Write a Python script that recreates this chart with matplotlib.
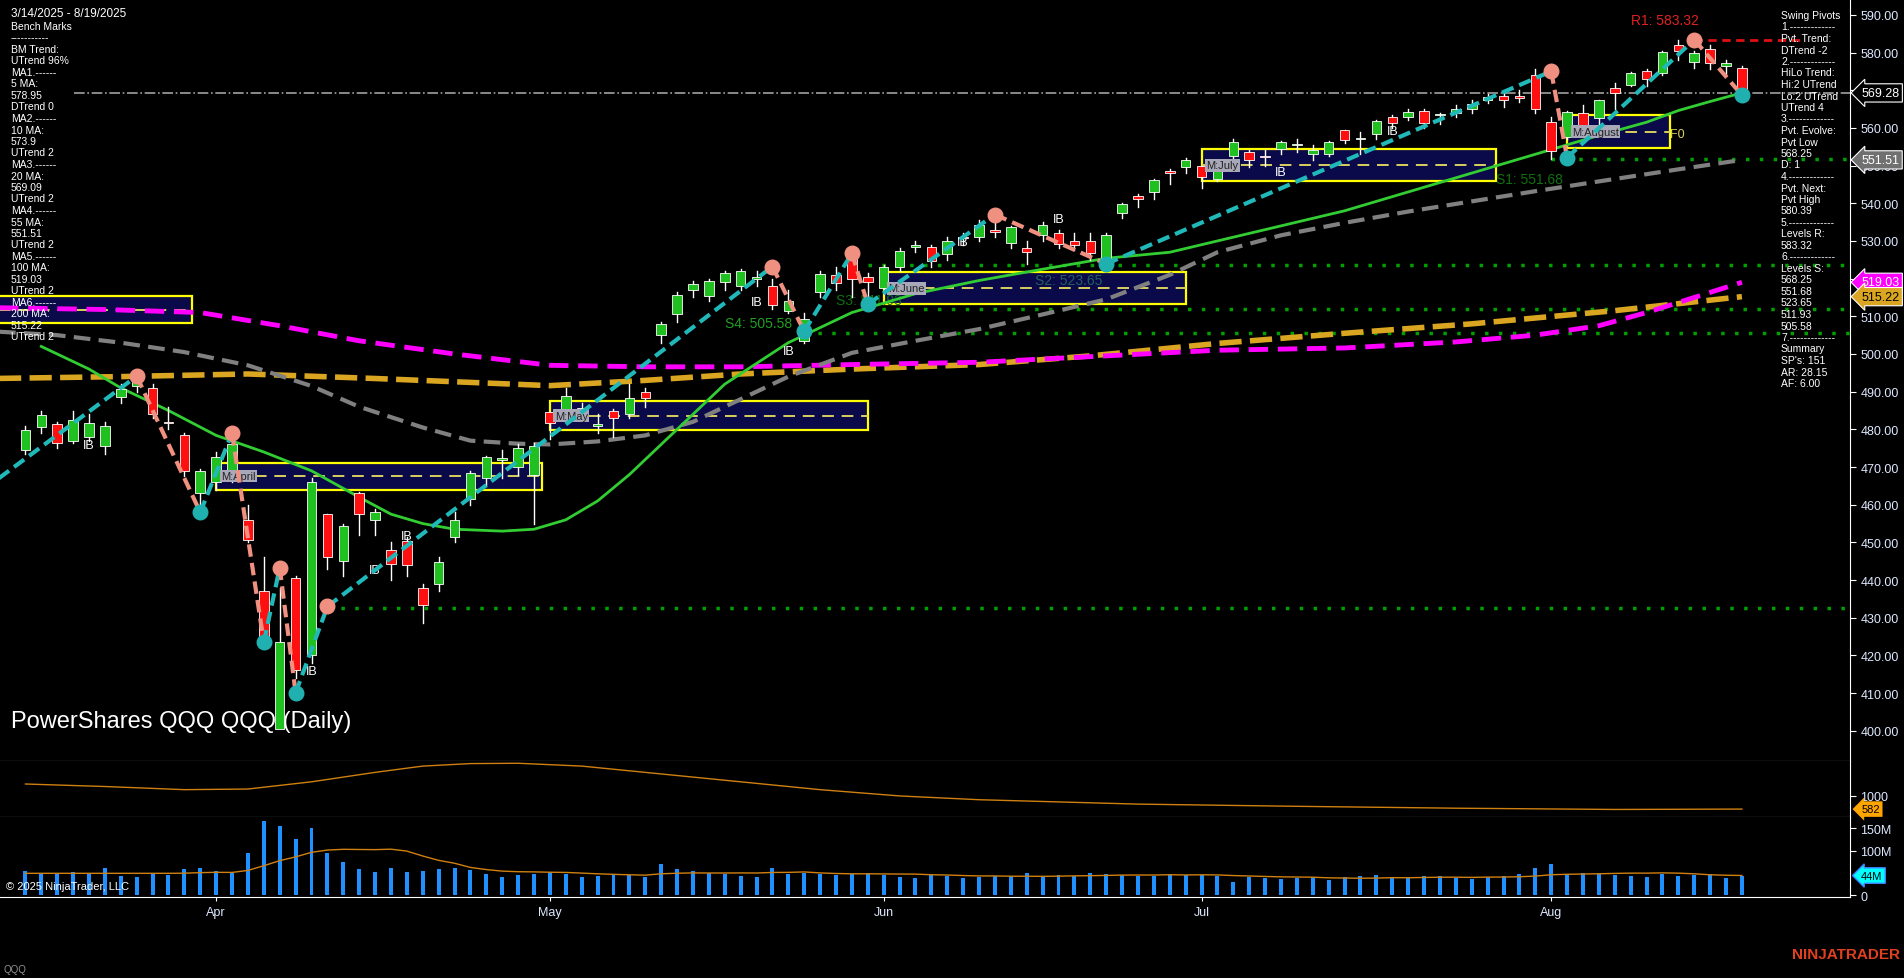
import matplotlib.pyplot as plt
import numpy as np

plt.rcParams['font.family'] = ['Liberation Sans', 'DejaVu Sans']

# ---- daily QQQ data 3/14/2025 - 8/19/2025 ----
opens = [474.5,480.5,481.5,477.0,478.0,475.5,488.5,491.5,491.0,482.0,478.5,463.0,
         466.0,469.0,456.0,437.0,400.5,440.5,420.0,457.5,445.0,463.0,456.0,448.0,450.5,438.0,439.0,451.5,461.5,467.0,472.0,470.0,468.0,
         484.5,484.0,485.0,481.0,485.0,484.0,490.0,505.0,510.5,517.0,515.5,519.0,518.0,520.0,518.0,511.5,503.5,516.5,521.0,525.5,520.5,
         517.5,523.0,528.5,528.5,526.5,531.0,531.0,533.0,529.5,528.0,531.5,532.0,530.0,530.0,524.0,537.5,542.0,543.0,548.5,549.5,
         550.0,546.5,552.5,553.5,552.5,554.5,555.5,553.0,553.0,559.5,557.0,558.5,563.0,563.0,564.5,563.5,564.0,565.0,567.5,568.5,568.5,574.0,
         561.5,557.5,564.0,562.5,570.5,571.5,575.0,574.5,582.0,577.5,581.0,576.5,576.0]
highs = [481.0,485.0,482.0,485.0,484.0,482.0,492.0,495.0,492.0,486.0,479.0,469.5,
         474.0,478.0,460.0,446.0,438.0,441.0,467.0,457.5,455.0,463.5,459.0,450.0,451.5,439.0,446.0,458.0,469.0,473.0,474.5,476.0,476.5,
         484.5,491.0,487.0,484.0,485.5,492.0,491.0,508.5,516.5,519.5,520.0,522.0,522.5,522.0,520.0,517.0,511.0,522.0,523.0,525.5,521.5,
         523.5,528.0,530.0,529.0,531.0,532.0,535.5,536.0,534.0,530.0,535.0,533.0,532.0,532.0,532.0,540.0,542.5,546.5,549.0,552.0,
         550.0,551.0,557.0,554.0,554.0,556.5,557.0,555.5,556.5,559.5,559.0,562.0,563.5,565.0,565.0,564.0,566.0,567.5,569.0,569.5,570.0,575.5,
         563.0,564.5,566.0,567.5,572.0,574.8,575.5,580.3,583.3,580.5,582.0,578.0,576.5]
lows = [473.5,479.0,475.0,476.5,477.0,473.5,487.0,490.0,483.0,480.0,467.5,457.0,
        464.0,466.0,450.0,422.0,402.5,414.0,418.0,443.0,441.0,452.0,452.0,440.0,441.0,428.5,437.0,450.0,460.0,465.0,467.0,468.0,455.0,
        477.5,483.0,483.0,479.0,478.0,483.0,486.0,503.0,508.5,515.0,514.0,517.0,517.0,518.0,512.0,511.0,503.0,515.0,517.0,515.0,515.0,
        516.0,522.0,527.0,523.0,525.0,529.0,530.0,531.0,528.0,524.0,530.0,528.0,527.5,525.0,523.5,536.0,539.0,541.0,545.0,548.0,
        544.0,546.0,552.0,549.5,550.0,553.0,553.5,551.5,552.5,556.0,553.0,557.0,560.0,562.0,560.0,561.0,563.0,564.0,566.5,565.5,567.0,564.0,
        551.7,557.0,559.0,561.0,565.0,571.0,571.0,574.0,578.0,576.0,575.5,574.0,568.2]
closes = [479.7,483.9,476.3,482.5,481.8,480.8,490.7,493.5,484.0,481.6,468.9,468.9,
          472.7,476.2,450.7,422.7,423.7,416.1,466.0,446.2,454.4,457.5,458.0,444.2,444.1,433.3,444.8,455.9,468.4,472.6,472.4,475.1,475.6,
          481.7,488.8,485.6,481.1,483.0,488.3,488.3,507.9,515.6,518.7,519.3,521.5,522.0,520.3,513.0,514.0,509.2,521.2,518.9,519.9,519.1,
          523.2,527.3,528.7,524.8,529.9,530.7,534.2,532.4,533.7,527.0,534.3,529.1,529.0,526.8,531.7,539.8,541.2,546.2,548.1,551.6,
          547.0,550.8,556.2,551.6,552.3,556.3,555.5,554.2,556.2,556.7,557.3,561.8,561.3,564.2,561.3,563.8,565.0,566.4,568.1,567.3,568.0,565.0,
          553.9,564.1,560.3,567.3,569.2,574.6,572.9,580.1,580.3,579.9,577.3,577.1,569.3]
volumes = [55,50,48,52,50,60,42,40,48,45,58,62,
           55,50,95,165,155,125,150,95,75,58,52,60,52,55,58,60,56,48,40,45,48,
           52,48,40,42,48,46,40,70,58,55,50,48,42,40,60,48,50,48,45,48,50,
           45,40,38,46,42,38,40,44,42,50,42,45,44,50,48,45,42,44,48,45,
           46,42,30,40,38,36,38,40,34,40,42,45,40,38,44,42,38,36,40,42,48,60,
           70,48,50,48,46,42,40,48,42,45,48,38,44]
month_labels = ['Apr', 'May', 'Jun', 'Jul', 'Aug']
month_idx = [12, 33, 54, 74, 96]

# moving averages (bar index, value)
ma20_x = [1, 4, 6, 9, 12, 15, 18, 21, 23, 25, 27, 30, 32, 34, 36, 38, 41, 44, 48, 52, 56, 60, 64, 68, 72, 75, 79, 83, 87, 91, 95, 99, 102, 104, 106, 108]
ma20_y = [502, 496, 491, 485, 478.4, 474, 469, 462, 457.5, 455, 453.5, 453, 453.5, 456, 461, 468, 480, 492, 503, 511, 516, 519.5, 522.5, 525.4, 527, 530, 534, 538, 543, 548, 553, 558, 561.5, 564.6, 567, 569.3]
ma55_x = [-2, 2, 6, 10, 14, 18, 21, 25, 28, 31, 33, 36, 39, 42, 45, 48, 52, 56, 60, 64, 68, 72, 75, 79, 83, 87, 91, 95, 99, 104, 108]
ma55_y = [506, 505, 503, 500.5, 497, 491.5, 486, 480.5, 477, 476.2, 476, 476.8, 478.4, 482, 488, 494, 500.3, 503.5, 506.6, 510.5, 514.5, 521, 527, 531.5, 534.8, 537.8, 540.5, 543.2, 545.8, 549, 551.5]
ma100_x = [-2, 5, 11, 16, 21, 27, 33, 39, 45, 52, 60, 67, 75, 83, 90, 95, 99, 102, 105, 108]
ma100_y = [512.3, 511.8, 511, 507.5, 503.5, 500, 497, 496.6, 496.6, 497.2, 497.8, 499.3, 501, 501.6, 503.2, 505, 507.5, 511, 515, 519.03]
ma200_x = [-2, 6, 14, 22, 33, 39, 45, 52, 60, 67, 75, 83, 91, 100, 108]
ma200_y = [493.5, 494, 494.7, 493.5, 491.6, 493, 494.7, 496, 497.2, 499.5, 502.8, 505.5, 508, 511.5, 515.22]
osc_x = [0, 5, 10, 14, 18, 22, 25, 28, 31, 35, 40, 45, 50, 55, 60, 70, 80, 90, 100, 108]
osc_y = [1380, 1300, 1200, 1220, 1450, 1750, 1950, 2030, 2040, 1950, 1700, 1450, 1200, 1000, 880, 740, 670, 610, 570, 582]

# swing pivots (bar index, price)
piv_x = [-2, 7, 11, 13, 15, 16, 17, 19, 47, 49, 52, 53, 61, 68, 96, 97, 105, 108]
piv_y = [466, 494.1, 458.0, 479.0, 423.5, 443.3, 410.1, 433.0, 523.2, 506.0, 526.7, 513.2, 537.0, 523.9, 575.0, 552.1, 583.4, 568.7]

# monthly range boxes: start, end, low, high, label
box_x0 = [-2, 12, 33, 54, 74, 97]
box_x1 = [10.5, 32.5, 53, 73, 92.5, 103.5]
box_lo = [508.2, 464.0, 479.7, 513.2, 545.8, 554.6]
box_hi = [515.4, 471.2, 487.5, 521.7, 554.3, 563.4]
box_lab = ['', 'M:April', 'M:May', 'M:June', 'M:July', 'M:August']

sup_levels = [551.68, 523.65, 511.93, 505.58]
sup_start = [96, 53, 53, 49]

left_lines = ['Bench Marks', '-----------', 'BM Trend:', 'UTrend 96%', 'MA1.------', '5 MA:', '578.95',
              'DTrend 0', 'MA2.------', '10 MA:', '573.9', 'UTrend 2', 'MA3.------', '20 MA:', '569.09',
              'UTrend 2', 'MA4.------', '55 MA:', '551.51', 'UTrend 2', 'MA5.------', '100 MA:', '519.03',
              'UTrend 2', 'MA6.------', '200 MA:', '515.22', 'UTrend 2']
right_lines = ['Swing Pivots', '1.-------------', 'Pvt. Trend:', 'DTrend -2', '2.-------------', 'HiLo Trend:',
               'Hi:2 UTrend', 'Lo:2 UTrend', 'UTrend 4', '3.-------------', 'Pvt. Evolve:', 'Pvt Low',
               '568.25', 'D: 1', '4.-------------', 'Pvt. Next:', 'Pvt High', '580.39', '5.-------------',
               'Levels R:', '583.32', '6.-------------', 'Levels S:', '568.25', '551.68', '523.65',
               '511.93', '505.58', '7.-------------', 'Summary', "SP's: 151", 'AR: 28.15', 'AF: 6.00']

W, H = 1904, 979
fig = plt.figure(figsize=(W / 100, H / 100), dpi=100, facecolor='black')
axp = fig.add_axes([0, 1 - 762 / H, 1850 / W, 762 / H])
axo = fig.add_axes([0, 1 - 818 / H, 1850 / W, 56 / H], sharex=axp)
axv = fig.add_axes([0, 1 - 898 / H, 1850 / W, 80 / H], sharex=axp)
tickc = '#dde8ff'
for ax in (axp, axo, axv):
    ax.set_facecolor('black')
    for s in ax.spines.values():
        s.set_visible(False)
    ax.spines['right'].set_visible(True)
    ax.spines['right'].set_color('white')
    ax.spines['bottom'].set_visible(True)
    ax.spines['bottom'].set_color('white')
    ax.yaxis.tick_right()
    ax.tick_params(axis='y', colors='white', labelcolor=tickc, labelsize=9, length=4)
    ax.tick_params(axis='x', colors='white', labelcolor=tickc, labelsize=9, length=3)
for ax in (axp, axo):
    ax.tick_params(axis='x', labelbottom=False, length=0)

n = len(closes)
xs = np.arange(n)
axp.set_xlim(-1.6, n - 1 + 6.8)
axp.set_ylim(392, 594.2)
axp.set_yticks(np.arange(400, 591, 10))
axp.set_yticklabels([f'{v:.2f}' for v in np.arange(400, 591, 10)])

# boxes
for x0, x1, lo, hi, lab in zip(box_x0, box_x1, box_lo, box_hi, box_lab):
    axp.add_patch(plt.Rectangle((x0, lo), x1 - x0, hi - lo, facecolor='#0a0a4a', edgecolor='#ffff00', lw=1.6, zorder=1))
    axp.plot([x0, x1], [(lo + hi) / 2] * 2, color='#d8d060', ls=(0, (6, 4)), lw=1.4, zorder=2)
    if lab:
        axp.text(x0 + 0.3, (lo + hi) / 2, lab, fontsize=8, color='#222', va='center', zorder=6,
                 bbox=dict(facecolor='#a8a8b8', edgecolor='none', pad=1))

# levels
axp.axhline(569.28, xmin=0.04, color='#a0a0a0', ls='-.', lw=1.2, zorder=2)
axp.plot([19, n + 6], [432.5, 432.5], color='#00a000', ls=(0, (1, 3)), lw=2.5, zorder=2)
for lv, st in zip(sup_levels, sup_start):
    axp.plot([st, n + 6], [lv, lv], color='#00a000', ls=(0, (1, 3)), lw=2.5, zorder=2)
axp.plot([105, n + 3], [583.32, 583.32], color='#e01010', ls=(0, (3, 2)), lw=2, zorder=2)

# moving averages
axp.plot(ma200_x, ma200_y, color='#daa520', lw=4, ls=(0, (4, 1.5)), zorder=3)
axp.plot(ma100_x, ma100_y, color='#ff00ff', lw=3.5, ls=(0, (4, 2)), zorder=3)
axp.plot(ma55_x, ma55_y, color='#808080', lw=3, ls=(0, (4, 2)), zorder=3)
axp.plot(ma20_x, ma20_y, color='#32cd32', lw=2, zorder=3)

# candles
for i in range(n):
    o, h, l, c = opens[i], highs[i], lows[i], closes[i]
    col = '#20c020' if c >= o else '#ff1010'
    axp.plot([i, i], [l, h], color='white', lw=1, zorder=4)
    axp.add_patch(plt.Rectangle((i - 0.3, min(o, c)), 0.6, max(abs(c - o), 0.3),
                                facecolor=col, edgecolor='white', lw=0.6, zorder=5))

# swing pivot zigzag
for k in range(len(piv_x) - 1):
    up = piv_y[k + 1] > piv_y[k]
    axp.plot(piv_x[k:k + 2], piv_y[k:k + 2], color='#20b8b8' if up else '#f09080',
             lw=3, ls=(0, (3, 1.5)), zorder=6)
for k in range(1, len(piv_x)):
    hi = piv_y[k] > piv_y[k - 1]
    axp.scatter(piv_x[k], piv_y[k], s=110, color='#f09080' if hi else '#20b0b0', zorder=7)

# labels on chart
axp.text(101, 587.5, 'R1: 583.32', color='#e02020', fontsize=10)
axp.text(92.5, 545.5, 'S1: 551.68', color='#107010', fontsize=10)
axp.text(63.5, 518.5, 'S2: 523.65', color='#206060', fontsize=10)
axp.text(51, 512.5, 'S3: 511.93', color='#107010', fontsize=10, va='bottom', zorder=2)
axp.text(44, 506.5, 'S4: 505.58', color='#20a020', fontsize=10, va='bottom', zorder=2)
axp.text(103.5, 557.5, 'F0', color='#d8d060', fontsize=9)
for ix, py in [(4, 475), (46, 513), (48, 500), (59, 529), (65, 535), (79, 547.5), (86, 558.5), (24, 451), (22, 442), (18, 415)]:
    axp.text(ix, py, 'IB', color='white', fontsize=9, ha='center')
axp.text(0.006, 0.045, 'PowerShares QQQ QQQ (Daily)', transform=axp.transAxes, color='white', fontsize=17)

# right price tags
for val, fc, tc in [(569.28, 'black', 'white'), (551.51, '#707070', 'white'),
                    (519.03, '#ff00ff', 'white'), (515.22, '#daa520', 'black')]:
    axp.annotate(f'{val:.2f}', xy=(1.0, val), xycoords=('axes fraction', 'data'), xytext=(8, 0),
                 textcoords='offset points', va='center', fontsize=9, color=tc, annotation_clip=False,
                 bbox=dict(boxstyle='larrow,pad=0.25', facecolor=fc, edgecolor='white', lw=0.8))

# oscillator panel
axo.set_ylim(330, 2112)
axo.set_yticks([1000])
axo.plot(osc_x, osc_y, color='#d08010', lw=1)
axo.annotate('582', xy=(1.0, 582), xycoords=('axes fraction', 'data'), xytext=(8, 0),
             textcoords='offset points', va='center', fontsize=8, color='black', annotation_clip=False,
             bbox=dict(boxstyle='larrow,pad=0.25', facecolor='#ffa500', edgecolor='none'))

# volume panel
vol = np.array(volumes)
axv.bar(xs, vol, width=0.25, color='#1e90ff')
avg = np.convolve(vol, np.ones(10) / 10, mode='full')[:n]
avg[:10] = vol[:10].mean()
axv.plot(xs, avg, color='#d08010', lw=1)
axv.set_ylim(-4, 175)
axv.set_yticks([0, 100, 150])
axv.set_yticklabels(['0', '100M', '150M'])
axv.annotate('44M', xy=(1.0, 44), xycoords=('axes fraction', 'data'), xytext=(8, 0),
             textcoords='offset points', va='center', fontsize=8, color='black', annotation_clip=False,
             bbox=dict(boxstyle='larrow,pad=0.25', facecolor='#00ffff', edgecolor='#4080ff'))
axv.set_xticks(month_idx)
axv.set_xticklabels(month_labels)
axv.text(0.003, 0.1, '© 2025 NinjaTrader, LLC', transform=axv.transAxes, color='white', fontsize=8)

# side text panels
fig.text(11 / W, 1 - 14 / H, '3/14/2025 - 8/19/2025', color='white', fontsize=8.5, va='center')
for k, s in enumerate(left_lines):
    fig.text(11 / W, 1 - (27 + 11.5 * k) / H, s, color='white', fontsize=7.5, va='center')
for k, s in enumerate(right_lines):
    fig.text(1781 / W, 1 - (16 + 11.5 * k) / H, s, color='white', fontsize=7.5, va='center')
fig.text(4 / W, 1 - 970 / H, 'QQQ', color='#909090', fontsize=7, va='center')
fig.text(1900 / W, 1 - 955 / H, 'NINJATRADER', color='#e04020', fontsize=11, fontweight='bold', ha='right', va='center')

fig.savefig('out.png', dpi=100, facecolor='black')
